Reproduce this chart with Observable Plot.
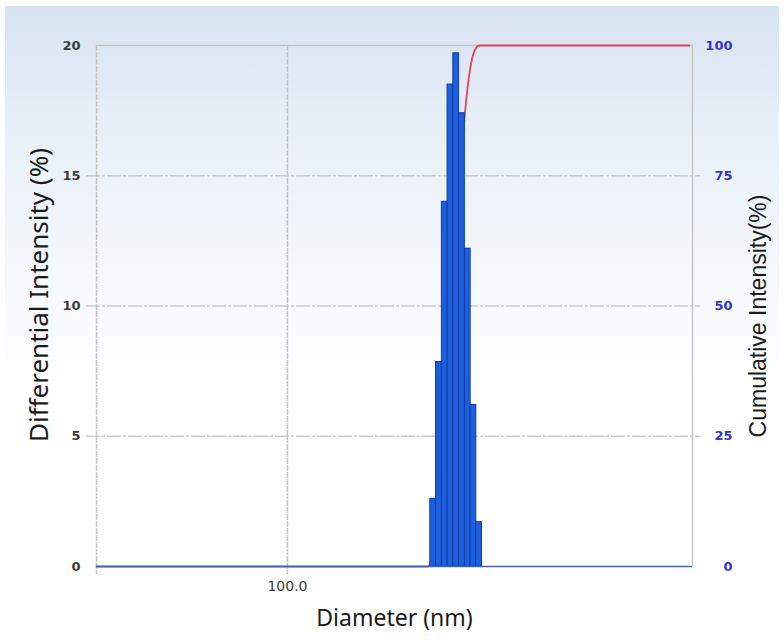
<!DOCTYPE html>
<html>
<head>
<meta charset="utf-8">
<script src="https://cdn.jsdelivr.net/npm/d3@7"></script>
<script src="https://cdn.jsdelivr.net/npm/@observablehq/plot@0.6"></script>
<style>
  body { margin: 0; background: #fff; }
  #chart { position: relative; width: 784px; height: 644px; background: #fff; overflow: hidden; }
  #bg { position: absolute; left: 5px; top: 6px; width: 774px; height: 380px;
        background: linear-gradient(#d8e3f1 0%, #e9f0f8 35%, #ffffff 100%); }
  #chart svg { position: absolute; left: 0; top: 0; }
</style>
</head>
<body>
<div id="chart"><div id="bg"></div></div>
<script>
// ---- data ----
const xDomain = [50, 435];                       // diameter range of the log axis (nm)
const binDiameter = [169.7, 173.3, 177.0, 180.7, 184.5, 188.4, 192.4, 196.4, 200.5];
const differential = [2.6, 7.85, 14.0, 18.5, 19.7, 17.4, 12.2, 6.2, 1.7];
const cumDiameter = [50, 166.3, 169.7, 173.3, 177.0, 180.7, 184.5, 188.4, 192.4, 196.4, 200.5, 430];
const cumulative = [0, 0, 2.6, 10.4, 24.4, 42.9, 62.6, 80.0, 92.2, 98.4, 100, 100];
const leftTicks = [0, 5, 10, 15, 20];
const gridTicks = [5, 10, 15];
const rightTicks = [0, 25, 50, 75, 100];
const xTicks = [100];
const xTickText = ["100.0"];

const halfBin = Math.sqrt(binDiameter[1] / binDiameter[0]);
const bars = binDiameter.map((d, i) => ({x1: d / halfBin, x2: d * halfBin, v: differential[i]}));
const cum = cumDiameter.map((d, i) => ({d, c: cumulative[i]}));

const plot = Plot.plot({
  width: 784,
  height: 644,
  marginLeft: 96,
  marginRight: 92,
  marginTop: 45,
  marginBottom: 78,
  x: {type: "log", domain: xDomain, axis: null},
  y: {domain: [0, 20], axis: null},
  style: {background: "transparent", fontFamily: "DejaVu Sans", overflow: "visible"},
  marks: [
    // horizontal grid lines (extend as tick marks outside the frame)
    Plot.ruleY(gridTicks, {y: d => d, stroke: "#cbcbcb", strokeWidth: 1.5,
      strokeDasharray: "14,2,3,2", insetLeft: -10, insetRight: -8}),
    // top frame
    Plot.ruleY([20], {y: d => d, stroke: "#c6c6c6", strokeWidth: 1.5}),
    // left frame and vertical grid line at 100
    Plot.ruleX([xDomain[0], 100], {x: d => d, stroke: "#c4c4c4", strokeWidth: 1.5,
      strokeDasharray: "6,1", insetBottom: -8}),
    // right frame
    Plot.ruleX([xDomain[1]], {x: d => d, stroke: "#c6c6c6", strokeWidth: 1.5}),
    // cumulative curve (0-100 mapped on 0-20)
    Plot.line(cum, {x: "d", y: d => d.c / 5, stroke: "#e2455c", strokeWidth: 1.8, curve: "monotone-x"}),
    // differential bars
    Plot.rectY(bars, {x1: "x1", x2: "x2", y: "v", fill: "#1d5fdc", stroke: "#0e3ba8", strokeWidth: 1}),
    // baseline
    Plot.ruleY([0], {y: d => d, stroke: "#4a63b3", strokeWidth: 1.5}),
    // left tick labels
    Plot.text(leftTicks, {y: d => d, frameAnchor: "left", dx: -16, textAnchor: "end",
      text: d => String(d), fontSize: 13, fontWeight: "bold", fill: "#3c3c3c"}),
    // right tick labels
    Plot.text(rightTicks, {y: d => d / 5, frameAnchor: "right", dx: 40, textAnchor: "end",
      text: d => String(d), fontSize: 13, fontWeight: "bold", fill: "#3434d2"}),
    // x tick label
    Plot.text(xTicks, {x: d => d, frameAnchor: "bottom", dy: 24,
      text: (d, i) => xTickText[i], fontSize: 14, fill: "#3c3c3c"}),
    // axis titles
    Plot.text(["Differential Intensity (%)"], {frameAnchor: "left", dx: -57, dy: -11, rotate: -90,
      textAnchor: "middle", text: d => d, fontSize: 26, fontFamily: "Noto Sans", fill: "#1a1a1a"}),
    Plot.text(["Cumulative Intensity(%)"], {frameAnchor: "right", dx: 66, dy: 10, rotate: -90,
      textAnchor: "middle", text: d => d, fontSize: 23, fontFamily: "Liberation Sans", fill: "#1a1a1a"}),
    Plot.text(["Diameter (nm)"], {frameAnchor: "bottom", dy: 59,
      textAnchor: "middle", text: d => d, fontSize: 23, fontFamily: "Noto Sans", fill: "#1a1a1a"})
  ]
});
document.getElementById("chart").appendChild(plot);
</script>
</body>
</html>
